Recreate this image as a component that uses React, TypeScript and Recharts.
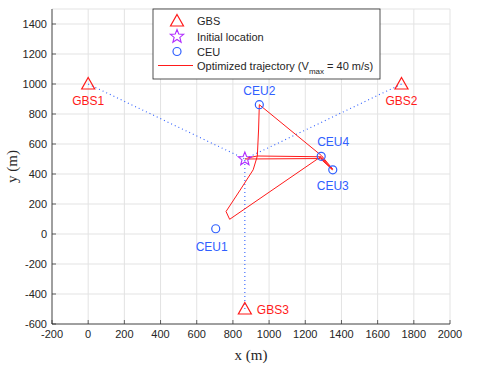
import { CartesianGrid, Scatter, ScatterChart, XAxis, YAxis } from "recharts";

const xTicks = [-200, 0, 200, 400, 600, 800, 1000, 1200, 1400, 1600, 1800, 2000];
const yTicks = [-600, -400, -200, 0, 200, 400, 600, 800, 1000, 1200, 1400];

const gbsNames = ["GBS1", "GBS2", "GBS3"];
const gbsX = [0, 1732, 866];
const gbsY = [1000, 1000, -500];

const initX = [866];
const initY = [500];

const ceuNames = ["CEU1", "CEU2", "CEU3", "CEU4"];
const ceuX = [705, 946, 1352, 1288];
const ceuY = [35, 862, 428, 518];

// optimized trajectory
const trajX = [866, 1283, 1350, 1288, 935, 942, 946, 1290, 1352, 1282, 782, 762, 840, 912, 935, 880];
const trajY = [500, 503, 428, 515, 520, 700, 862, 522, 432, 512, 98, 150, 293, 428, 520, 507];

const RED = "#ff1a1a";
const BLUE = "#3060ff";
const PURPLE = "#b02cff";
const AXIS = "#262626";
const FONT = "'Liberation Sans', Arial, Helvetica, sans-serif";

// where each point's name sits relative to its marker
const labelPlace: Record<string, { dx: number; dy: number; anchor: string }> = {
  GBS1: { dx: 0, dy: 21, anchor: "middle" },
  GBS2: { dx: 0, dy: 21, anchor: "middle" },
  GBS3: { dx: 12, dy: 5, anchor: "start" },
  CEU1: { dx: -4, dy: 22, anchor: "middle" },
  CEU2: { dx: 0, dy: -10, anchor: "middle" },
  CEU3: { dx: 0, dy: 20, anchor: "middle" },
  CEU4: { dx: 12, dy: -10, anchor: "middle" },
};

const gbsData = gbsX.map((x, i) => ({ x, y: gbsY[i], name: gbsNames[i] }));
const ceuData = ceuX.map((x, i) => ({ x, y: ceuY[i], name: ceuNames[i] }));
const initData = initX.map((x, i) => ({ x, y: initY[i] }));
const trajData = trajX.map((x, i) => ({ x, y: trajY[i] }));
const links = gbsData.map((g) => [
  { x: g.x, y: g.y },
  { x: initX[0], y: initY[0] },
]);

function PointLabel({ cx, cy, name, color }: any) {
  const p = labelPlace[name];
  if (!p) return null;
  return (
    <text x={cx + p.dx} y={cy + p.dy} textAnchor={p.anchor} fontSize={12} fontFamily={FONT} fill={color}>
      {name}
    </text>
  );
}

function trianglePath(cx: number, cy: number) {
  return `M${cx},${cy - 6.5}L${cx + 6.5},${cy + 5}L${cx - 6.5},${cy + 5}Z`;
}

function Triangle({ cx, cy, payload }: any) {
  return (
    <g>
      <path d={trianglePath(cx, cy)} fill="none" stroke={RED} strokeWidth={1.2} />
      <PointLabel cx={cx} cy={cy} name={payload?.name} color={RED} />
    </g>
  );
}

function starPath(cx: number, cy: number, ro: number, ri: number) {
  let d = "";
  for (let k = 0; k < 10; k++) {
    const r = k % 2 === 0 ? ro : ri;
    const a = -Math.PI / 2 + (k * Math.PI) / 5;
    d += (k === 0 ? "M" : "L") + (cx + r * Math.cos(a)).toFixed(2) + "," + (cy + r * Math.sin(a)).toFixed(2);
  }
  return d + "Z";
}

function Star({ cx, cy }: any) {
  return <path d={starPath(cx, cy, 7, 3)} fill="none" stroke={PURPLE} strokeWidth={1.1} />;
}

function Ring({ cx, cy, payload }: any) {
  return (
    <g>
      <circle cx={cx} cy={cy} r={4} fill="none" stroke={BLUE} strokeWidth={1.2} />
      <PointLabel cx={cx} cy={cy} name={payload?.name} color={BLUE} />
    </g>
  );
}

const NoDot = () => <g />;

function BottomTick({ x, y, payload }: any) {
  return (
    <g>
      <line x1={x} x2={x} y1={y} y2={y - 4} stroke={AXIS} strokeWidth={0.7} />
      <text x={x} y={y + 14} textAnchor="middle" fontSize={11} fontFamily={FONT} fill={AXIS}>
        {payload.value}
      </text>
    </g>
  );
}

function TopTick({ x, y }: any) {
  return <line x1={x} x2={x} y1={y} y2={y + 4} stroke={AXIS} strokeWidth={0.7} />;
}

function LeftTick({ x, y, payload }: any) {
  return (
    <g>
      <line x1={x} x2={x + 4} y1={y} y2={y} stroke={AXIS} strokeWidth={0.7} />
      <text x={x - 5} y={y + 4} textAnchor="end" fontSize={11} fontFamily={FONT} fill={AXIS}>
        {payload.value}
      </text>
    </g>
  );
}

function RightTick({ x, y }: any) {
  return <line x1={x} x2={x - 4} y1={y} y2={y} stroke={AXIS} strokeWidth={0.7} />;
}

function Legend() {
  const rows = [13, 28.5, 43.5, 58.5];
  const ix = 25;
  const tx = 45;
  return (
    <svg width={230} height={75} style={{ position: "absolute", left: 152, top: 8 }}>
      <rect x={1} y={1} width={227} height={70} fill="#fff" stroke={AXIS} strokeWidth={0.8} />
      <path d={trianglePath(ix, rows[0])} fill="none" stroke={RED} strokeWidth={1.2} />
      <path d={starPath(ix, rows[1], 7, 3)} fill="none" stroke={PURPLE} strokeWidth={1.1} />
      <circle cx={ix} cy={rows[2]} r={4} fill="none" stroke={BLUE} strokeWidth={1.2} />
      <line x1={6} x2={41} y1={rows[3] - 1} y2={rows[3] - 1} stroke={RED} strokeWidth={1} />
      <g fontSize={11} fontFamily={FONT} fill={AXIS}>
        <text x={tx} y={rows[0] + 4}>GBS</text>
        <text x={tx} y={rows[1] + 4}>Initial location</text>
        <text x={tx} y={rows[2] + 4}>CEU</text>
        <text x={tx} y={rows[3] + 3}>
          Optimized trajectory (V
          <tspan fontSize={8} dy={4}>max</tspan>
          <tspan dy={-4}> = 40 m/s)</tspan>
        </text>
      </g>
    </svg>
  );
}

export default function App() {
  return (
    <div style={{ position: "relative", width: 499, height: 366, background: "#fff" }}>
      <style>{"body{margin:0}"}</style>
      <ScatterChart width={499} height={366} margin={{ top: 9, right: 49, bottom: 0, left: 0 }}>
        <CartesianGrid stroke="#e3e3e3" strokeWidth={1} />
        <XAxis
          type="number"
          dataKey="x"
          domain={[-200, 2000]}
          ticks={xTicks}
          allowDataOverflow
          height={42}
          tickSize={0}
          tickMargin={0}
          tickLine={false}
          axisLine={{ stroke: AXIS, strokeWidth: 0.8 }}
          tick={<BottomTick />}
          interval={0}
          label={{
            content: ({ viewBox }: any) => (
              <text
                x={viewBox.x + viewBox.width / 2}
                y={viewBox.y + 36}
                textAnchor="middle"
                fontSize={15}
                fontFamily="'Liberation Serif', 'Times New Roman', serif"
                fill={AXIS}
              >
                x (m)
              </text>
            ),
          }}
        />
        <XAxis
          xAxisId="top"
          orientation="top"
          type="number"
          domain={[-200, 2000]}
          ticks={xTicks}
          allowDataOverflow
          height={0}
          tickSize={0}
          tickMargin={0}
          tickLine={false}
          axisLine={{ stroke: AXIS, strokeWidth: 0.8 }}
          tick={<TopTick />}
          interval={0}
        />
        <YAxis
          type="number"
          dataKey="y"
          domain={[-600, 1500]}
          ticks={yTicks}
          allowDataOverflow
          width={52}
          tickSize={0}
          tickMargin={0}
          tickLine={false}
          axisLine={{ stroke: AXIS, strokeWidth: 0.8 }}
          tick={<LeftTick />}
          interval={0}
          label={{
            content: ({ viewBox }: any) => {
              const lx = viewBox.x + 17;
              const ly = viewBox.y + viewBox.height / 2;
              return (
                <text
                  x={lx}
                  y={ly}
                  transform={`rotate(-90 ${lx} ${ly})`}
                  textAnchor="middle"
                  fontSize={15}
                  fontFamily="'Liberation Serif', 'Times New Roman', serif"
                  fill={AXIS}
                >
                  y (m)
                </text>
              );
            },
          }}
        />
        <YAxis
          yAxisId="right"
          orientation="right"
          type="number"
          domain={[-600, 1500]}
          ticks={yTicks}
          allowDataOverflow
          width={0}
          tickSize={0}
          tickMargin={0}
          tickLine={false}
          axisLine={{ stroke: AXIS, strokeWidth: 0.8 }}
          tick={<RightTick />}
          interval={0}
        />
        {links.map((seg, i) => (
          <Scatter
            key={"link" + i}
            data={seg}
            fill={BLUE}
            line={{ stroke: BLUE, strokeWidth: 1.1, strokeDasharray: "1 3" }}
            shape={<NoDot />}
            isAnimationActive={false}
          />
        ))}
        <Scatter
          data={trajData}
          fill={RED}
          line={{ stroke: RED, strokeWidth: 1 }}
          shape={<NoDot />}
          isAnimationActive={false}
        />
        <Scatter data={gbsData} fill={RED} shape={<Triangle />} isAnimationActive={false} />
        <Scatter data={initData} fill={PURPLE} shape={<Star />} isAnimationActive={false} />
        <Scatter data={ceuData} fill={BLUE} shape={<Ring />} isAnimationActive={false} />
      </ScatterChart>
      <Legend />
    </div>
  );
}
